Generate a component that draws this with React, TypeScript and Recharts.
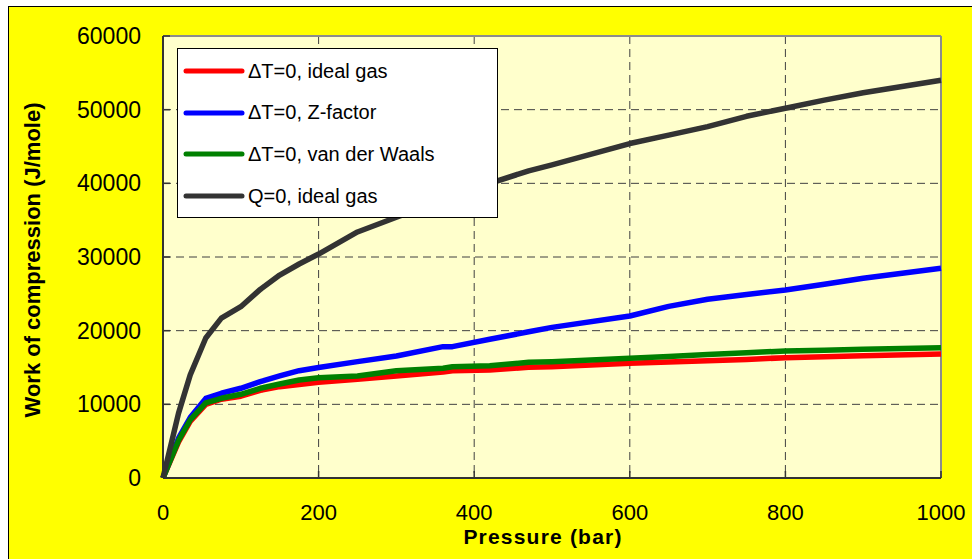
import React from 'react';
import { LineChart, Line, XAxis, YAxis, CartesianGrid, Legend, ReferenceLine } from 'recharts';

// pressure in bar, work in J/mole
const pressure = [0, 20, 35, 55, 75, 100, 125, 150, 175, 200, 250, 300, 360, 372, 420, 470, 500, 600, 650, 700, 750, 800, 850, 900, 1000];
const isothermalIdeal = [0, 4900, 7700, 10000, 10700, 11100, 11900, 12400, 12700, 13000, 13400, 13850, 14390, 14570, 14660, 15020, 15100, 15570, 15750, 15930, 16100, 16330, 16450, 16580, 16830];
const isothermalZ = [0, 5400, 8200, 10800, 11500, 12180, 13070, 13850, 14570, 15000, 15800, 16560, 17830, 17830, 18830, 19850, 20450, 21990, 23300, 24260, 24900, 25520, 26300, 27110, 28470];
const isothermalVdW = [0, 5100, 7900, 10200, 10820, 11360, 12180, 12760, 13300, 13600, 13850, 14570, 14890, 15110, 15250, 15700, 15780, 16250, 16500, 16750, 17000, 17240, 17350, 17470, 17690];
const adiabaticIdeal = [0, 8800, 14000, 19000, 21700, 23250, 25600, 27550, 29050, 30400, 33400, 35400, 37700, 38150, 40000, 41700, 42500, 45400, 46550, 47700, 49100, 50200, 51300, 52300, 54000];

const xTicks = [0, 200, 400, 600, 800, 1000];
const yTicks = [0, 10000, 20000, 30000, 40000, 50000, 60000];

const seriesList = [
  { key: 'ideal', name: '\u0394T=0, ideal gas', color: '#FF0000' },
  { key: 'zfac', name: '\u0394T=0, Z-factor', color: '#0000FF' },
  { key: 'vdw', name: '\u0394T=0, van der Waals', color: '#008000' },
  { key: 'adiab', name: 'Q=0, ideal gas', color: '#333333' },
];

const data = pressure.map((p, i) => ({
  p,
  ideal: isothermalIdeal[i],
  zfac: isothermalZ[i],
  vdw: isothermalVdW[i],
  adiab: adiabaticIdeal[i],
}));

const FONT = '"Liberation Sans", Arial, sans-serif';

const XTick = (props: any) => {
  const { x, y, payload } = props;
  return (
    <g>
      <line x1={x} x2={x} y1={y - 26} y2={y - 33} stroke="#333" strokeWidth={1.5} />
      <text x={x} y={y} dy="0.71em" textAnchor="middle" fill="#000" fontSize={22} fontFamily={FONT}>
        {payload.value}
      </text>
    </g>
  );
};

const YTick = (props: any) => {
  const { x, y, payload } = props;
  return (
    <g>
      <line x1={x + 22} x2={x + 29} y1={y} y2={y} stroke="#333" strokeWidth={1.5} />
      <text x={x} y={y} dy="0.355em" textAnchor="end" fill="#000" fontSize={23} fontFamily={FONT}>
        {payload.value}
      </text>
    </g>
  );
};

const LegendBox = () => (
  <div
    style={{
      position: 'relative',
      width: 321,
      height: 170,
      boxSizing: 'border-box',
      background: '#fff',
      border: '1px solid #000',
      fontFamily: FONT,
      fontSize: 20,
      color: '#000',
    }}
  >
    {seriesList.map((s, i) => (
      <div
        key={s.key}
        style={{ position: 'absolute', left: 0, top: 22 + i * 41.7 - 12, height: 24, display: 'flex', alignItems: 'center' }}
      >
        <svg width={70} height={24} style={{ display: 'block' }}>
          <line x1={8} x2={64} y1={12} y2={12} stroke={s.color} strokeWidth={5} strokeLinecap="round" />
        </svg>
        <span style={{ whiteSpace: 'nowrap' }}>{s.name}</span>
      </div>
    ))}
  </div>
);

export default function App() {
  return (
    <div
      style={{
        position: 'fixed',
        left: 8,
        top: 6,
        width: 964,
        height: 553,
        background: '#FFFF00',
        borderTop: '1px solid #000',
        borderLeft: '1px solid #000',
      }}
    >
      <LineChart width={963} height={552} data={data} margin={{ top: 29, right: 31, bottom: 0, left: 0 }}>
        <CartesianGrid fill="#FFFFCC" stroke="#404040" strokeDasharray="8 5" />
        <XAxis
          dataKey="p"
          type="number"
          domain={[0, 1000]}
          ticks={xTicks}
          interval={0}
          height={81}
          tickSize={0}
          tickMargin={26}
          tick={<XTick />}
          axisLine={{ stroke: '#333', strokeWidth: 2 }}
          label={{
            content: () => (
              <text x={534} y={537} textAnchor="middle" fill="#000" fontSize={21} fontWeight="bold" fontFamily={FONT} letterSpacing={1.2}>
                Pressure (bar)
              </text>
            ),
          }}
        />
        <YAxis
          type="number"
          domain={[0, 60000]}
          ticks={yTicks}
          interval={0}
          width={154}
          tickSize={0}
          tickMargin={22}
          tick={<YTick />}
          axisLine={{ stroke: '#333', strokeWidth: 2 }}
          label={{
            content: () => (
              <text x={31} y={253} transform="rotate(-90, 31, 253)" textAnchor="middle" fill="#000" fontSize={22} fontWeight="bold" fontFamily={FONT}>
                Work of compression (J/mole)
              </text>
            ),
          }}
        />
        <ReferenceLine y={60000} stroke="#8c8c8c" strokeWidth={2} />
        <ReferenceLine x={1000} stroke="#8c8c8c" strokeWidth={2} />
        {seriesList.map((s) => (
          <Line
            key={s.key}
            type="linear"
            dataKey={s.key}
            name={s.name}
            stroke={s.color}
            strokeWidth={5.5}
            strokeLinejoin="round"
            dot={false}
            activeDot={false}
            isAnimationActive={false}
          />
        ))}
        <Legend
          layout="horizontal"
          verticalAlign="middle"
          align="center"
          content={() => <LegendBox />}
          wrapperStyle={{ left: 168, top: 41, width: 321, height: 170 }}
        />
      </LineChart>
    </div>
  );
}
